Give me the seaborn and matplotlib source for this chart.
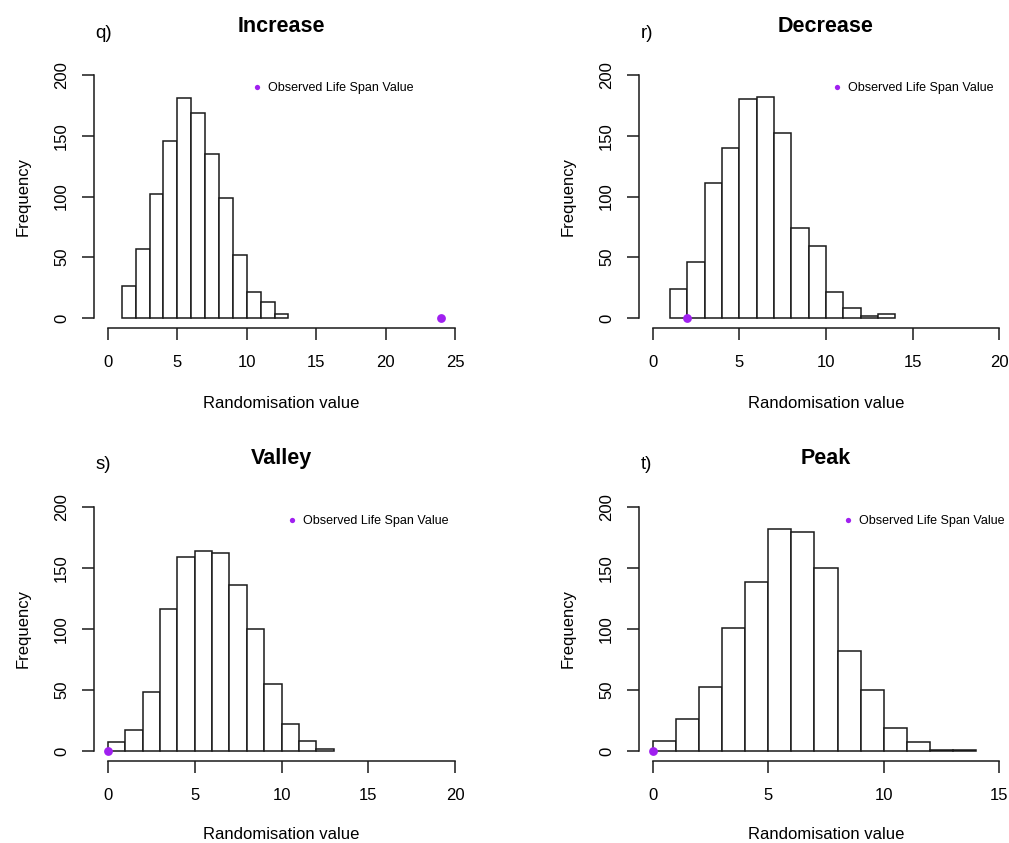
import numpy as np
import pandas as pd
import matplotlib
matplotlib.use("Agg")
import matplotlib.pyplot as plt
from matplotlib.lines import Line2D
import seaborn as sns

# ---- data ----
panel_titles = ["Increase", "Decrease", "Valley", "Peak"]
panel_tags = ["q)", "r)", "s)", "t)"]

increase_edges = [1, 2, 3, 4, 5, 6, 7, 8, 9, 10, 11, 12, 13]
increase_counts = [26, 57, 102, 146, 181, 169, 135, 99, 52, 21, 13, 3]
increase_observed = 24

decrease_edges = [1, 2, 3, 4, 5, 6, 7, 8, 9, 10, 11, 12, 13, 14]
decrease_counts = [24, 46, 111, 140, 180, 182, 152, 74, 59, 21, 8, 2, 3]
decrease_observed = 2

valley_edges = [0, 1, 2, 3, 4, 5, 6, 7, 8, 9, 10, 11, 12, 13]
valley_counts = [7, 17, 48, 116, 159, 164, 162, 136, 100, 55, 22, 8, 2]
valley_observed = 0

peak_edges = [0, 1, 2, 3, 4, 5, 6, 7, 8, 9, 10, 11, 12, 13, 14]
peak_counts = [8, 26, 52, 101, 138, 182, 179, 150, 82, 50, 19, 7, 1, 1]
peak_observed = 0

x_max = [25, 20, 20, 15]
x_ticks = [[0, 5, 10, 15, 20, 25], [0, 5, 10, 15, 20], [0, 5, 10, 15, 20], [0, 5, 10, 15]]
y_ticks = [0, 50, 100, 150, 200]

legend_label = "Observed Life Span Value"
x_label = "Randomisation value"
y_label = "Frequency"

all_edges = [increase_edges, decrease_edges, valley_edges, peak_edges]
all_counts = [increase_counts, decrease_counts, valley_counts, peak_counts]
all_observed = [increase_observed, decrease_observed, valley_observed, peak_observed]

# ---- style ----
sns.set_style("ticks")
plt.rcParams["font.family"] = ["Liberation Sans", "DejaVu Sans"]
plt.rcParams["text.color"] = "black"
plt.rcParams["axes.labelcolor"] = "black"
plt.rcParams["xtick.color"] = "black"
plt.rcParams["ytick.color"] = "black"
PURPLE = "#A020F0"
INK = "#1a1a1a"

W, H = 1009, 843
fig = plt.figure(figsize=(W / 100, H / 100), dpi=100)

# plot regions in pixels: (left, top, right, bottom)
regions = [(94, 65.3, 469, 327.7), (639, 65.3, 1013, 327.7),
           (94, 496.9, 469, 760.8), (639, 496.9, 1013, 760.8)]
legend_pos = [(0.426, 0.9135), (0.52, 0.9135), (0.519, 0.9087), (0.55, 0.9087)]

for i in range(4):
    l, t, r, b = regions[i]
    ax = fig.add_axes([l / W, 1 - b / H, (r - l) / W, (b - t) / H])
    edges = [float(e) for e in all_edges[i]]
    counts = [float(c) for c in all_counts[i]]
    centers = [(edges[k] + edges[k + 1]) / 2 for k in range(len(counts))]
    df = pd.DataFrame({"value": centers, "count": counts})
    sns.histplot(data=df, x="value", weights="count", bins=edges, stat="count",
                 color="white", edgecolor=INK, linewidth=1.1, alpha=1, ax=ax)
    obs = pd.DataFrame({"x": [all_observed[i]], "y": [0]})
    sns.scatterplot(data=obs, x="x", y="y", color=PURPLE, s=40, edgecolor=PURPLE,
                    linewidth=0, ax=ax, clip_on=False, zorder=5)

    xm = x_max[i]
    ax.set_xlim(-0.04 * xm, xm * 1.04)
    ax.set_ylim(-8, 208)
    ax.set_xticks(x_ticks[i])
    ax.set_yticks(y_ticks)
    ax.set_xticklabels([str(v) for v in x_ticks[i]])
    ax.set_yticklabels([str(v) for v in y_ticks])
    for side in ["top", "right"]:
        ax.spines[side].set_visible(False)
    ax.spines["left"].set_bounds(0, 200)
    ax.spines["bottom"].set_bounds(0, xm)
    for side in ["left", "bottom"]:
        ax.spines[side].set_color(INK)
        ax.spines[side].set_linewidth(1.1)
    ax.tick_params(axis="both", length=8.5, width=1.1, color=INK, labelsize=12,
                   labelcolor="black")
    ax.tick_params(axis="x", pad=11)
    ax.tick_params(axis="y", pad=9.5)
    for lab in ax.get_yticklabels():
        lab.set_rotation(90)
        lab.set_va("center")
        lab.set_ha("right")

    ax.set_xlabel(x_label, fontsize=12, va="center", color="black")
    ax.set_ylabel(y_label, fontsize=12, va="center", color="black")
    ax.xaxis.set_label_coords(0.5, -0.287 if i < 2 else -0.281)
    ax.yaxis.set_label_coords(-0.19, 0.5)

    ax.set_title(panel_titles[i], fontsize=15.5, fontweight="bold", pad=24,
                 color="black")
    ax.annotate(panel_tags[i], xy=(0, 1), xycoords="axes fraction",
                xytext=(1, 23), textcoords="offset points",
                ha="left", va="center", fontsize=13.5, color="black")

    handle = Line2D([0], [0], marker="o", linestyle="none", markersize=3.8,
                    color=PURPLE, markeredgewidth=0, label=legend_label)
    leg = ax.legend(handles=[handle], loc="center left", bbox_to_anchor=legend_pos[i],
                    frameon=False, fontsize=9, handlelength=0.55, handletextpad=0.6,
                    borderpad=0, borderaxespad=0)
    for txt in leg.get_texts():
        txt.set_color("black")

fig.savefig("out.png", dpi=100)
